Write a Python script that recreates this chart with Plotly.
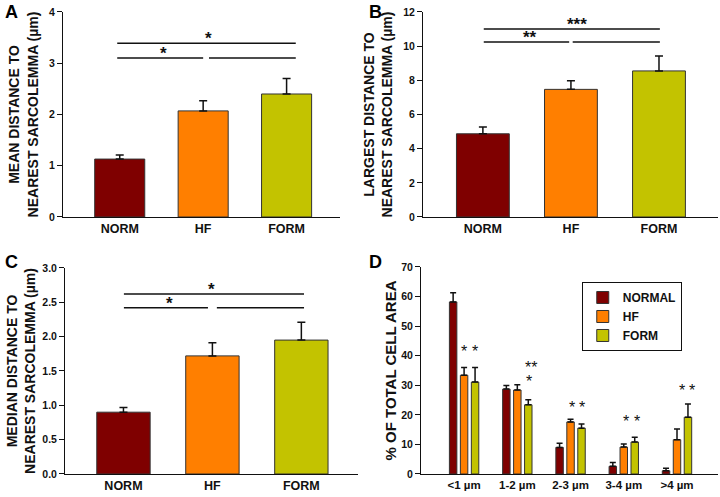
import plotly.graph_objects as go

FONT = "Liberation Sans, Arial, sans-serif"

# ---------------- data ----------------
groups = ["NORM", "HF", "FORM"]
colors = ["#7f0000", "#ff7f00", "#c3c300"]

mean_dist = [1.13, 2.07, 2.40]
mean_sem = [0.08, 0.20, 0.30]

largest_dist = [4.87, 7.47, 8.55]
largest_sem = [0.40, 0.50, 0.87]

median_dist = [0.90, 1.72, 1.95]
median_sem = [0.07, 0.19, 0.26]

bins = ["<1 µm", "1-2 µm", "2-3 µm", "3-4 µm", ">4 µm"]
series_names = ["NORMAL", "HF", "FORM"]
normal_pct = [58.2, 28.7, 9.0, 2.6, 1.1]
normal_sem = [3.1, 1.2, 1.4, 1.3, 0.8]
hf_pct = [33.4, 28.4, 17.6, 9.1, 11.6]
hf_sem = [2.6, 1.8, 0.9, 1.0, 3.6]
form_pct = [31.1, 23.4, 15.5, 10.8, 19.2]
form_sem = [4.9, 1.7, 1.4, 1.6, 4.5]

# significance brackets: (x0, x1, y, star text, star x)
sig_A = [(-0.03, 2.11, 3.39, "*", 1.06), (-0.03, 1.0, 3.10, "*", 0.52), (1.07, 2.11, 3.10, "", None)]
sig_B = [(0.01, 2.01, 11.0, "***", 1.07), (0.01, 0.98, 10.24, "**", 0.53), (1.02, 2.01, 10.24, "", None)]
sig_C = [(0.005, 2.03, 2.62, "*", 0.99), (0.005, 0.95, 2.42, "*", 0.52), (1.05, 2.03, 2.42, "", None)]

# D stars: (bin index, offset within bin, y value, text)
stars_D = [(0, 0.0, 40.0, "*"), (0, 0.206, 40.0, "*"),
           (1, 0.25, 34.5, "**"), (1, 0.21, 29.8, "*"),
           (2, 0.03, 21.0, "*"), (2, 0.22, 21.0, "*"),
           (3, 0.05, 16.3, "*"), (3, 0.25, 16.3, "*"),
           (4, 0.09, 26.8, "*"), (4, 0.29, 26.8, "*")]

fig = go.Figure()

def add_simple(vals, sems, xa, ya):
    fig.add_trace(go.Bar(
        x=groups, y=vals, width=0.6,
        marker=dict(color=colors, line=dict(color="#333333", width=1)),
        error_y=dict(type="data", array=sems, arrayminus=[0] * len(sems), symmetric=False,
                     color="#111111", thickness=1.5, width=4),
        xaxis=xa, yaxis=ya, showlegend=False))

add_simple(mean_dist, mean_sem, "x", "y")
add_simple(largest_dist, largest_sem, "x2", "y2")
add_simple(median_dist, median_sem, "x3", "y3")

for name, vals, sems, col in zip(series_names, [normal_pct, hf_pct, form_pct],
                                 [normal_sem, hf_sem, form_sem], colors):
    fig.add_trace(go.Bar(
        x=bins, y=vals, name=name,
        marker=dict(color=col, line=dict(color="#333333", width=1)),
        error_y=dict(type="data", array=sems, arrayminus=[0] * len(sems), symmetric=False,
                     color="#111111", thickness=1.5, width=3),
        xaxis="x4", yaxis="y4"))

shapes = []
annotations = []

def add_sig(sig, xr, yr):
    for x0, x1, y, txt, sx in sig:
        shapes.append(dict(type="line", xref=xr, yref=yr, x0=x0, x1=x1, y0=y, y1=y,
                           line=dict(color="#111111", width=1.5)))
        if txt:
            annotations.append(dict(xref=xr, yref=yr, x=sx, y=y, text=txt, showarrow=False,
                                    xanchor="center", yanchor="bottom", yshift=-7,
                                    font=dict(family=FONT, size=17, color="#111111", weight="bold")))

add_sig(sig_A, "x", "y")
add_sig(sig_B, "x2", "y2")
add_sig(sig_C, "x3", "y3")

for bi, off, sy, txt in stars_D:
    annotations.append(dict(xref="x4", yref="y4", x=bi + off, y=sy, text=txt, showarrow=False,
                            xanchor="center", yanchor="bottom", yshift=-6,
                            font=dict(family=FONT, size=16, color="#111111")))

for letter, px, py in [("A", 0.004, 1.0), ("B", 0.51, 1.0), ("C", 0.004, 0.497), ("D", 0.51, 0.497)]:
    annotations.append(dict(xref="paper", yref="paper", x=px, y=py, text=letter, showarrow=False,
                            xanchor="left", yanchor="top",
                            font=dict(family=FONT, size=18, color="#000000", weight="bold")))

def yax(domain, rng, dtick, anchor, title, tsize, standoff, fmt=None):
    d = dict(domain=domain, range=rng, dtick=dtick, anchor=anchor, showline=True, linecolor="#111111",
             linewidth=1, ticks="outside", ticklen=5, tickcolor="#111111", showgrid=False,
             zeroline=False, automargin=False,
             tickfont=dict(family=FONT, size=10.5, color="#111111", weight="bold"),
             title=dict(text=title, standoff=standoff,
                        font=dict(family=FONT, size=tsize, color="#111111", weight="bold")))
    if fmt:
        d["tickformat"] = fmt
    return d

def xax(domain, rng, anchor, fsize):
    return dict(domain=domain, range=rng, anchor=anchor, showline=True, linecolor="#111111",
                linewidth=1, ticks="", showgrid=False, zeroline=False, automargin=False,
                tickfont=dict(family=FONT, size=fsize, color="#111111", weight="bold"))

fig.update_layout(
    width=720, height=497,
    margin=dict(l=0, r=0, t=0, b=0, pad=0),
    paper_bgcolor="white", plot_bgcolor="white",
    barmode="group", bargap=0.382, bargroupgap=0.32,
    xaxis=xax([0.0875, 0.4722], [-0.68, 2.64], "y", 12.5),
    yaxis=yax([0.5634, 0.9759], [0, 4], 1, "x", "MEAN DISTANCE TO<br>NEAREST SARCOLEMMA (µm)", 14, 7),
    xaxis2=xax([0.5875, 0.9972], [-0.68, 2.67], "y2", 12.5),
    yaxis2=yax([0.5634, 0.9759], [0, 12], 2, "x2", "LARGEST DISTANCE TO<br>NEAREST SARCOLEMMA (µm)", 14, 7),
    xaxis3=xax([0.0903, 0.497], [-0.657, 2.635], "y3", 12.5),
    yaxis3=yax([0.0463, 0.4608], [0, 3], 0.5, "x3", "MEDIAN DISTANCE TO<br>NEAREST SARCOLEMMA (µm)", 14, 3, ".1f"),
    xaxis4=xax([0.5847, 0.9972], [-0.81, 4.77], "y4", 11.5),
    yaxis4=yax([0.0463, 0.4628], [0, 70], 10, "x4", "% OF TOTAL CELL AREA", 15, 0),
    legend=dict(x=0.808, y=0.4326, xanchor="left", yanchor="top",
                bordercolor="#111111", borderwidth=1, bgcolor="white",
                font=dict(family=FONT, size=12, color="#111111", weight="bold"),
                tracegroupgap=0, itemwidth=30),
    shapes=shapes, annotations=annotations,
)

fig.write_html("out.html", config={"displayModeBar": False},
               post_script="document.body.style.margin='0';document.body.style.overflow='hidden';")
